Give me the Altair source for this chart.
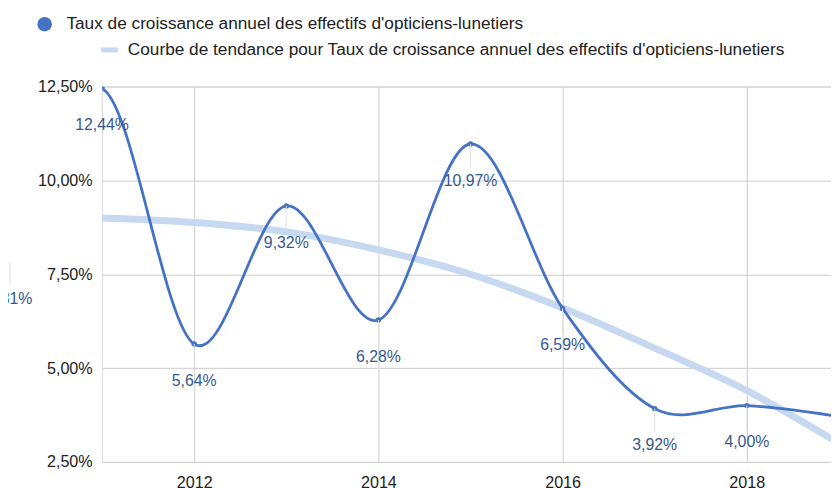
import altair as alt
import pandas as pd

years = [2010, 2011, 2012, 2013, 2014, 2015, 2016, 2017, 2018, 2019]
rates = [7.81, 12.44, 5.64, 9.32, 6.28, 10.97, 6.59, 3.92, 4.00, 3.71]
trend = [9.05, 9.00, 8.88, 8.63, 8.15, 7.50, 6.60, 5.53, 4.40, 3.00]
label_years = [2010, 2011, 2012, 2013, 2014, 2015, 2016, 2017, 2018]
x_ticks = [2012, 2014, 2016, 2018]
y_ticks = [2.5, 5.0, 7.5, 10.0, 12.5]
series_name = "Taux de croissance annuel des effectifs d'opticiens-lunetiers"
trend_name = "Courbe de tendance pour Taux de croissance annuel des effectifs d'opticiens-lunetiers"

LINE = "#4472c4"
LABEL = "#35598f"
TREND = "#c6d9f0"
FONT = "Liberation Sans"

df = pd.DataFrame({"year": years, "value": rates, "trend": trend})
df["label"] = [f"{v:.2f}".replace(".", ",") + "%" for v in rates]
df_lab = df[df["year"].isin(label_years)]

xs = alt.Scale(domain=[2011, 2018.914], nice=False, zero=False)
ys = alt.Scale(domain=[2.5, 12.5], nice=False, zero=False)

x_axis = alt.Axis(values=x_ticks, format="d", title=None, ticks=False, domain=False,
                  labelFont=FONT, labelFontSize=16.3, labelColor="#222222", labelPadding=13,
                  gridColor="#cccccc", labelFlush=False)
y_axis = alt.Axis(values=y_ticks, title=None, ticks=False, domain=False,
                  labelExpr="replace(format(datum.value, '.2f'), '.', ',') + '%'",
                  labelFont=FONT, labelFontSize=16.3, labelColor="#222222", labelPadding=10,
                  gridColor="#cccccc")

base = alt.Chart(df)

grid = base.mark_point(opacity=0).encode(
    x=alt.X("year:Q", scale=xs, axis=x_axis),
    y=alt.Y("value:Q", scale=ys, axis=y_axis),
)

trend_line = base.mark_line(color=TREND, strokeWidth=7, interpolate="monotone", clip=True).encode(
    x=alt.X("year:Q", scale=xs), y=alt.Y("trend:Q", scale=ys)
)

main_line = base.mark_line(color=LINE, strokeWidth=2.8, interpolate="cardinal", clip=True).encode(
    x=alt.X("year:Q", scale=xs), y=alt.Y("value:Q", scale=ys)
)

pts = base.mark_circle(color=LINE, size=30, opacity=1, clip=True).encode(
    x=alt.X("year:Q", scale=xs), y=alt.Y("value:Q", scale=ys)
)

lab_base = alt.Chart(df_lab)
leaders = lab_base.mark_rule(color="#e3e3e3", strokeWidth=1, y2Offset=24).encode(
    x=alt.X("year:Q", scale=xs), y=alt.Y("value:Q", scale=ys), y2="value:Q"
)
labels = lab_base.mark_text(color=LABEL, font=FONT, fontSize=16, dy=37, baseline="middle",
                            align="center").encode(
    x=alt.X("year:Q", scale=xs), y=alt.Y("value:Q", scale=ys), text="label:N"
)

leg = alt.Chart(pd.DataFrame({"name": [series_name], "tname": [trend_name]}))
leg_dot = leg.mark_circle(color=LINE, size=215, opacity=1).encode(
    x=alt.value(-58), y=alt.value(-63))
leg_txt1 = leg.mark_text(align="left", baseline="middle", font=FONT, fontSize=17.4,
                         color="#222222").encode(x=alt.value(-36), y=alt.value(-63), text="name:N")
leg_bar = leg.mark_rule(color=TREND, strokeWidth=5).encode(
    x=alt.value(-1), x2=alt.value(16), y=alt.value(-37))
leg_txt2 = leg.mark_text(align="left", baseline="middle", font=FONT, fontSize=17.4,
                         color="#222222").encode(x=alt.value(26), y=alt.value(-37), text="tname:N")

chart = alt.layer(grid, trend_line, main_line, pts, leaders, labels,
                  leg_dot, leg_txt1, leg_bar, leg_txt2).properties(
    width=736, height=379,
    autosize=alt.AutoSizeParams(type="none"),
    padding={"left": 95, "top": 77, "right": 0, "bottom": 24},
).configure_view(stroke=None).configure(background="white")

chart.save("out.html", embed_options={"renderer": "svg", "actions": False})
